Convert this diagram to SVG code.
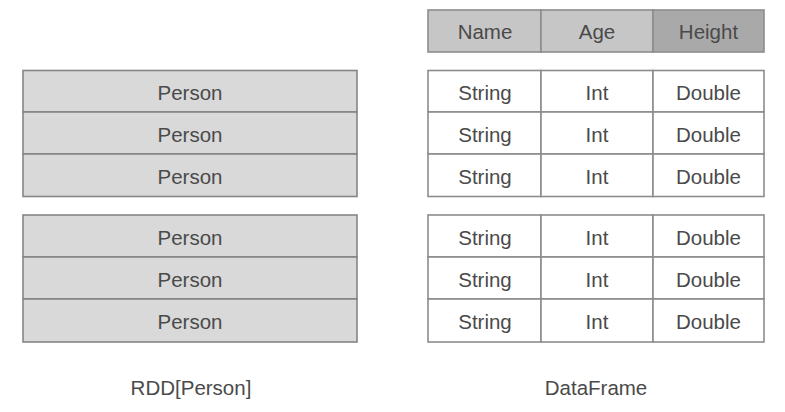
<svg xmlns="http://www.w3.org/2000/svg" width="785" height="412" viewBox="0 0 785 412">
<style>
  text { font-family: "Liberation Sans", Arial, sans-serif; font-size: 20.5px; fill: #4a4a4a; text-anchor: middle; }
  .person { fill: #d9d9d9; stroke: #858585; stroke-width: 1.6; }
  .cell { fill: #ffffff; stroke: #8c8c8c; stroke-width: 1.6; }
  .hdr { fill: #c6c6c6; stroke: #8c8c8c; stroke-width: 1.6; }
  .hdr2 { fill: #a9a9a9; stroke: #8c8c8c; stroke-width: 1.6; }
</style>
<rect width="785" height="412" fill="#ffffff"/>

<g id="rdd-block-1">
  <g id="rdd-row-1"><rect class="person" x="23" y="70.5" width="334" height="41.5"/><text x="190" y="100">Person</text></g>
  <g id="rdd-row-2"><rect class="person" x="23" y="112" width="334" height="42"/><text x="190" y="142">Person</text></g>
  <g id="rdd-row-3"><rect class="person" x="23" y="154" width="334" height="42.5"/><text x="190" y="184">Person</text></g>
</g>
<g id="rdd-block-2">
  <g id="rdd-row-4"><rect class="person" x="23" y="215" width="334" height="42"/><text x="190" y="245">Person</text></g>
  <g id="rdd-row-5"><rect class="person" x="23" y="257" width="334" height="42"/><text x="190" y="287">Person</text></g>
  <g id="rdd-row-6"><rect class="person" x="23" y="299" width="334" height="43"/><text x="190" y="329">Person</text></g>
</g>

<g id="df-header">
  <rect class="hdr" x="428" y="10" width="113" height="42"/><text x="485" y="39">Name</text>
  <rect class="hdr" x="541" y="10" width="112" height="42"/><text x="597" y="39">Age</text>
  <rect class="hdr2" x="653" y="10" width="111" height="42"/><text x="708.5" y="39">Height</text>
</g>

<g id="df-block-1">
  <g id="df-row-1">
    <rect class="cell" x="428" y="70.5" width="113" height="41.5"/><text x="485" y="100">String</text>
    <rect class="cell" x="541" y="70.5" width="112" height="41.5"/><text x="597" y="100">Int</text>
    <rect class="cell" x="653" y="70.5" width="111" height="41.5"/><text x="708.5" y="100">Double</text>
  </g>
  <g id="df-row-2">
    <rect class="cell" x="428" y="112" width="113" height="42"/><text x="485" y="142">String</text>
    <rect class="cell" x="541" y="112" width="112" height="42"/><text x="597" y="142">Int</text>
    <rect class="cell" x="653" y="112" width="111" height="42"/><text x="708.5" y="142">Double</text>
  </g>
  <g id="df-row-3">
    <rect class="cell" x="428" y="154" width="113" height="42.5"/><text x="485" y="184">String</text>
    <rect class="cell" x="541" y="154" width="112" height="42.5"/><text x="597" y="184">Int</text>
    <rect class="cell" x="653" y="154" width="111" height="42.5"/><text x="708.5" y="184">Double</text>
  </g>
</g>
<g id="df-block-2">
  <g id="df-row-4">
    <rect class="cell" x="428" y="215" width="113" height="42"/><text x="485" y="245">String</text>
    <rect class="cell" x="541" y="215" width="112" height="42"/><text x="597" y="245">Int</text>
    <rect class="cell" x="653" y="215" width="111" height="42"/><text x="708.5" y="245">Double</text>
  </g>
  <g id="df-row-5">
    <rect class="cell" x="428" y="257" width="113" height="42"/><text x="485" y="287">String</text>
    <rect class="cell" x="541" y="257" width="112" height="42"/><text x="597" y="287">Int</text>
    <rect class="cell" x="653" y="257" width="111" height="42"/><text x="708.5" y="287">Double</text>
  </g>
  <g id="df-row-6">
    <rect class="cell" x="428" y="299" width="113" height="43"/><text x="485" y="329">String</text>
    <rect class="cell" x="541" y="299" width="112" height="43"/><text x="597" y="329">Int</text>
    <rect class="cell" x="653" y="299" width="111" height="43"/><text x="708.5" y="329">Double</text>
  </g>
</g>

<g id="connectors"></g>

<g id="labels">
  <text x="191" y="395">RDD[Person]</text>
  <text x="596" y="395">DataFrame</text>
</g>
</svg>
